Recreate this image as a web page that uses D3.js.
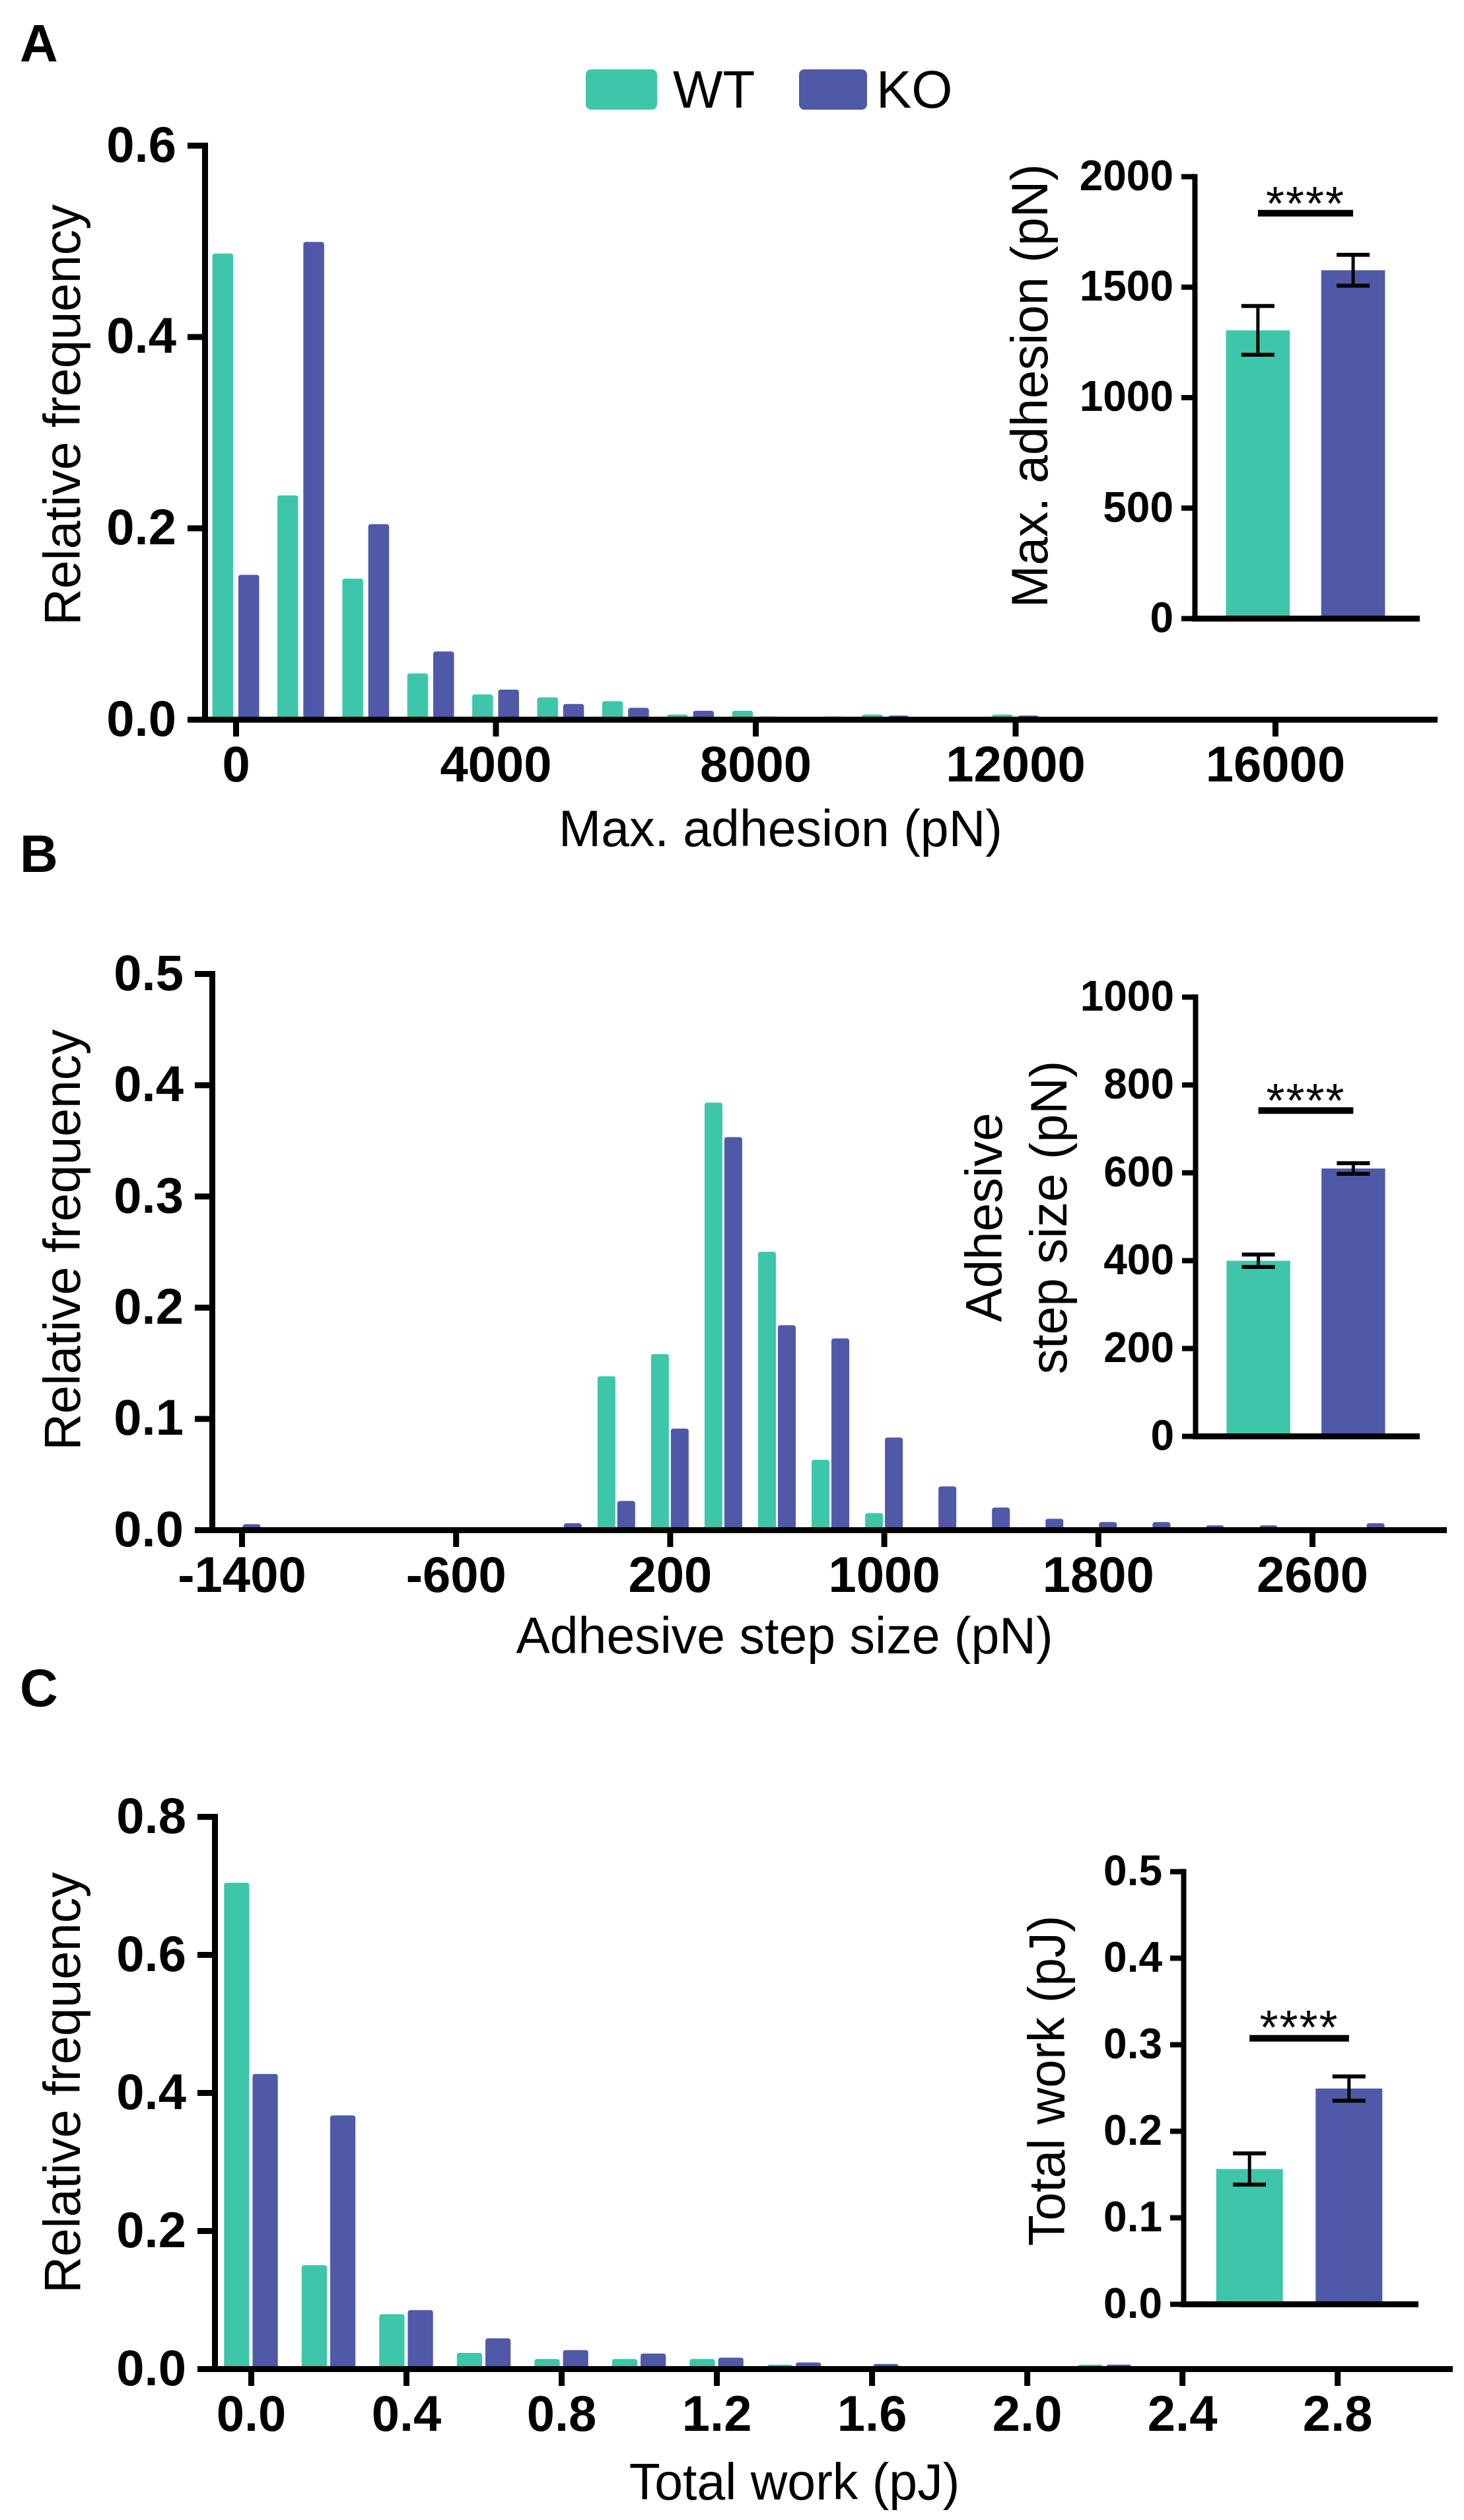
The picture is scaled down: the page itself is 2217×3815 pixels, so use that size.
<!DOCTYPE html>
<html>
<head>
<meta charset="utf-8">
<script src="https://cdn.jsdelivr.net/npm/d3@7"></script>
<style>
html, body { margin: 0; padding: 0; background: #ffffff; }
svg { display: block; }
</style>
</head>
<body>
<svg id="fig" width="2217" height="3815"></svg>
<script>
// ---------------- DATA ----------------
const seriesNames = ["WT", "KO"];
const seriesColors = ["#3ec6aa", "#4f59a7"];

// Panel A: Max. adhesion histogram (bin centres in pN)
const binsA = [0, 1000, 2000, 3000, 4000, 5000, 6000, 7000, 8000, 9000, 10000, 11000, 12000, 13000, 14000, 15000];
const wtA = [0.487, 0.234, 0.147, 0.048, 0.026, 0.023, 0.019, 0.005, 0.009, 0, 0.005, 0, 0.005, 0, 0, 0];
const koA = [0.151, 0.499, 0.204, 0.071, 0.031, 0.016, 0.012, 0.009, 0.003, 0.003, 0.004, 0, 0.004, 0.002, 0, 0.002];
const xTicksA = [0, 4000, 8000, 12000, 16000];
const yTicksA = [0, 0.2, 0.4, 0.6];

// Panel B: Adhesive step size histogram (bin centres in pN)
const binsB = [-1400, -1200, -1000, -800, -600, -400, -200, 0, 200, 400, 600, 800, 1000, 1200, 1400, 1600, 1800, 2000, 2200, 2400, 2600, 2800];
const wtB = [0, 0, 0, 0, 0, 0, 0, 0.138, 0.158, 0.384, 0.250, 0.063, 0.015, 0, 0, 0, 0, 0, 0, 0, 0, 0];
const koB = [0.005, 0, 0, 0, 0, 0, 0.006, 0.026, 0.091, 0.353, 0.184, 0.172, 0.083, 0.039, 0.020, 0.010, 0.007, 0.007, 0.004, 0.004, 0.001, 0.006];
const xTicksB = [-1400, -600, 200, 1000, 1800, 2600];
const yTicksB = [0, 0.1, 0.2, 0.3, 0.4, 0.5];

// Panel C: Total work histogram (bin centres in pJ)
const binsC = [0, 0.2, 0.4, 0.6, 0.8, 1.0, 1.2, 1.4, 1.6, 1.8, 2.0, 2.2, 2.4, 2.6, 2.8];
const wtC = [0.704, 0.150, 0.079, 0.023, 0.014, 0.014, 0.014, 0.006, 0, 0, 0, 0.006, 0, 0, 0];
const koC = [0.427, 0.367, 0.085, 0.044, 0.027, 0.022, 0.016, 0.009, 0.007, 0, 0.003, 0.006, 0.002, 0.002, 0.002];
const xTicksC = [0, 0.4, 0.8, 1.2, 1.6, 2.0, 2.4, 2.8];
const yTicksC = [0, 0.2, 0.4, 0.6, 0.8];

// Insets: mean ± SEM
const insetGroups = ["WT", "KO"];
const meanA = [1303, 1575];
const semA = [110, 70];
const insetTicksA = [0, 500, 1000, 1500, 2000];
const sigA = 1833;

const meanB = [399, 609];
const semB = [14, 12];
const insetTicksB = [0, 200, 400, 600, 800, 1000];
const sigB = 741;

const meanC = [0.156, 0.249];
const semC = [0.018, 0.014];
const insetTicksC = [0, 0.1, 0.2, 0.3, 0.4, 0.5];
const sigC = 0.307;

const sigLabel = "****";

// ---------------- LAYOUT / STYLE ----------------
const FONT = "'Liberation Sans', Arial, Helvetica, sans-serif";
const svg = d3.select("#fig");

const layoutA = { letter: "A", letterY: 93,
  x0: 310, x1: 2172, base: 1089, top: 220, xDomain: [-478, 18450], yDomain: [0, 0.6],
  barFrac: 0.32, gapFrac: 0.08,
  xLabel: "Max. adhesion (pN)", xLabelX: 1182, xLabelY: 1281,
  yLabelX: 121, yLabelY: 628, xFmt: d => String(d), yFmt: d3.format(".1f") };
const layoutB = { letter: "B", letterY: 1320,
  x0: 321, x1: 2186, base: 2316, top: 1474, xDomain: [-1511, 3091], yDomain: [0, 0.5],
  barFrac: 0.333, gapFrac: 0.037,
  xLabel: "Adhesive step size (pN)", xLabelX: 1188, xLabelY: 2503,
  yLabelX: 121, yLabelY: 1877, xFmt: d => String(d), yFmt: d3.format(".1f") };
const layoutC = { letter: "C", letterY: 2583,
  x0: 325, x1: 2195, base: 3586, top: 2750, xDomain: [-0.0936, 3.089], yDomain: [0, 0.8],
  barFrac: 0.325, gapFrac: 0.043,
  xLabel: "Total work (pJ)", xLabelX: 1203, xLabelY: 3784,
  yLabelX: 121, yLabelY: 3153, xFmt: d3.format(".1f"), yFmt: d3.format(".1f") };

const insetLayoutA = { x0: 1809, x1: 2145, base: 936, top: 267, yDomain: [0, 2000],
  labelLines: ["Max. adhesion (pN)"], labelX: [1586], labelY: 584, fmt: d => String(d), starsDy: 10 };
const insetLayoutB = { x0: 1810, x1: 2145, base: 2174, top: 1509, yDomain: [0, 1000],
  labelLines: ["Adhesive", "step size (pN)"], labelX: [1517, 1615], labelY: 1843, fmt: d => String(d), starsDy: 10 };
const insetLayoutC = { x0: 1792, x1: 2143, base: 3488, top: 2833, yDomain: [0, 0.5],
  labelLines: ["Total work (pJ)"], labelX: [1612], labelY: 3150, fmt: d3.format(".1f"), starsDy: 8 };

function styleAxis(g, fontSize, strokeW) {
  g.attr("font-family", FONT).attr("font-size", fontSize).attr("font-weight", "bold");
  g.select(".domain").attr("stroke", "#000").attr("stroke-width", strokeW).attr("stroke-linecap", "square");
  g.selectAll(".tick line").attr("stroke", "#000").attr("stroke-width", strokeW);
  g.selectAll(".tick text").attr("fill", "#000");
}

function drawHist(L, bins, wt, ko, xTicks, yTicks) {
  const x = d3.scaleLinear().domain(L.xDomain).range([L.x0, L.x1]);
  const y = d3.scaleLinear().domain(L.yDomain).range([L.base, L.top]);
  const binPx = x(bins[1]) - x(bins[0]);
  const barW = binPx * L.barFrac, gap = binPx * L.gapFrac;
  const g = svg.append("g");

  const rows = [];
  bins.forEach((b, i) => {
    if (wt[i] > 0) rows.push({ b, v: wt[i], s: 0 });
    if (ko[i] > 0) rows.push({ b, v: ko[i], s: 1 });
  });
  g.selectAll("rect.bar").data(rows).join("rect")
    .attr("class", "bar")
    .attr("x", d => d.s === 0 ? x(d.b) - gap / 2 - barW : x(d.b) + gap / 2)
    .attr("width", barW)
    .attr("y", d => y(d.v))
    .attr("height", d => y(0) - y(d.v) + 4)
    .attr("rx", 4)
    .attr("fill", d => seriesColors[d.s]);

  const ya = g.append("g").attr("transform", `translate(${L.x0},0)`)
    .call(d3.axisLeft(y).tickValues(yTicks).tickFormat(L.yFmt).tickSize(26).tickSizeOuter(0).tickPadding(17));
  styleAxis(ya, 76, 9);

  const xa = g.append("g").attr("transform", `translate(0,${L.base})`)
    .call(d3.axisBottom(x).tickValues(xTicks).tickFormat(L.xFmt).tickSize(26).tickSizeOuter(0));
  styleAxis(xa, 76, 9);
  xa.selectAll(".tick text").attr("dy", null).attr("y", 94);

  g.append("text").attr("x", L.xLabelX).attr("y", L.xLabelY)
    .attr("text-anchor", "middle").attr("font-family", FONT).attr("font-size", 77)
    .text(L.xLabel);
  g.append("text").attr("transform", `translate(${L.yLabelX},${L.yLabelY}) rotate(-90)`)
    .attr("text-anchor", "middle").attr("font-family", FONT).attr("font-size", 77)
    .text("Relative frequency");
  g.append("text").attr("x", 30).attr("y", L.letterY)
    .attr("font-family", FONT).attr("font-size", 80).attr("font-weight", "bold")
    .text(L.letter);
}

function drawInset(L, means, sems, ticks, sigY) {
  const x = d3.scaleBand().domain(insetGroups).range([L.x0, L.x1]).paddingInner(0.33).paddingOuter(0.33);
  const y = d3.scaleLinear().domain(L.yDomain).range([L.base, L.top]);
  const g = svg.append("g");
  const rows = insetGroups.map((k, i) => ({ k, i, m: means[i], e: sems[i] }));

  g.selectAll("rect.ib").data(rows).join("rect")
    .attr("class", "ib")
    .attr("x", d => x(d.k)).attr("width", x.bandwidth())
    .attr("y", d => y(d.m)).attr("height", d => y(0) - y(d.m))
    .attr("fill", d => seriesColors[d.i]);

  const cap = 50;
  const eb = g.selectAll("g.eb").data(rows).join("g").attr("class", "eb")
    .attr("stroke", "#000");
  eb.append("line")
    .attr("x1", d => x(d.k) + x.bandwidth() / 2).attr("x2", d => x(d.k) + x.bandwidth() / 2)
    .attr("y1", d => y(d.m + d.e)).attr("y2", d => y(d.m - d.e)).attr("stroke-width", 5);
  eb.append("line")
    .attr("x1", d => x(d.k) + x.bandwidth() / 2 - cap / 2).attr("x2", d => x(d.k) + x.bandwidth() / 2 + cap / 2)
    .attr("y1", d => y(d.m + d.e)).attr("y2", d => y(d.m + d.e)).attr("stroke-width", 6);
  eb.append("line")
    .attr("x1", d => x(d.k) + x.bandwidth() / 2 - cap / 2).attr("x2", d => x(d.k) + x.bandwidth() / 2 + cap / 2)
    .attr("y1", d => y(d.m - d.e)).attr("y2", d => y(d.m - d.e)).attr("stroke-width", 6);

  const ya = g.append("g").attr("transform", `translate(${L.x0},0)`)
    .call(d3.axisLeft(y).tickValues(ticks).tickFormat(L.fmt).tickSize(20).tickSizeOuter(0).tickPadding(12));
  styleAxis(ya, 64, 8);
  const xa = g.append("g").attr("transform", `translate(0,${L.base})`)
    .call(d3.axisBottom(x).tickValues([]).tickSizeOuter(0));
  styleAxis(xa, 64, 9);

  // significance bar
  const cx0 = x(insetGroups[0]) + x.bandwidth() / 2;
  const cx1 = x(insetGroups[1]) + x.bandwidth() / 2;
  g.append("line").attr("x1", cx0).attr("x2", cx1)
    .attr("y1", y(sigY)).attr("y2", y(sigY))
    .attr("stroke", "#000").attr("stroke-width", 10);
  g.append("text").attr("x", (cx0 + cx1) / 2).attr("y", y(sigY) + L.starsDy)
    .attr("text-anchor", "middle").attr("font-family", FONT).attr("font-size", 72)
    .attr("letter-spacing", 2)
    .text(sigLabel);

  L.labelLines.forEach((t, i) => {
    g.append("text").attr("transform", `translate(${L.labelX[i]},${L.labelY}) rotate(-90)`)
      .attr("text-anchor", "middle").attr("font-family", FONT).attr("font-size", 77)
      .text(t);
  });
}

// Legend
const legend = svg.append("g");
const legendPos = [{ sx: 887, sw: 108, tx: 1019 }, { sx: 1210, sw: 103, tx: 1327 }];
seriesNames.forEach((n, i) => {
  legend.append("rect").attr("x", legendPos[i].sx).attr("y", 105)
    .attr("width", legendPos[i].sw).attr("height", 61).attr("rx", 8)
    .attr("fill", seriesColors[i]);
  legend.append("text").attr("x", legendPos[i].tx).attr("y", 163)
    .attr("font-family", FONT).attr("font-size", 80).text(n);
});

drawHist(layoutA, binsA, wtA, koA, xTicksA, yTicksA);
drawInset(insetLayoutA, meanA, semA, insetTicksA, sigA);
drawHist(layoutB, binsB, wtB, koB, xTicksB, yTicksB);
drawInset(insetLayoutB, meanB, semB, insetTicksB, sigB);
drawHist(layoutC, binsC, wtC, koC, xTicksC, yTicksC);
drawInset(insetLayoutC, meanC, semC, insetTicksC, sigC);
</script>
</body>
</html>
